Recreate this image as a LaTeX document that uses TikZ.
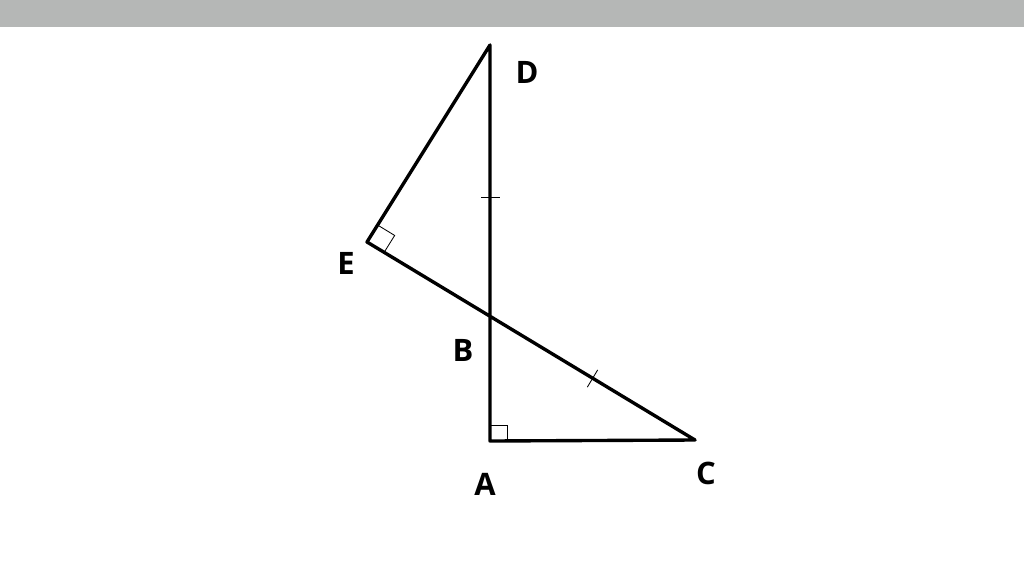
\documentclass[tikz,border=0pt]{standalone}
\usepackage{fontspec}
\setmainfont{Open Sans}
\usetikzlibrary{calc}
\definecolor{bargray}{RGB}{181,183,182}
\begin{document}
\begin{tikzpicture}[x=0.025cm, y=-0.025cm, side/.style={line width=2.4pt, line join=round}, mark line/.style={line width=0.6pt}, lbl/.style={font=\fontsize{22}{26}\selectfont\bfseries}]
    \useasboundingbox (0,0) rectangle (1024,560);
    \fill[bargray] (0,0) rectangle (1024,27);
    \coordinate (D) at (490,45); \coordinate (E) at (367,242);
    \coordinate (A) at (490,441); \coordinate (C) at (695,440);
    \coordinate (B) at (490,317);
    \draw[side] (D) -- (A) -- (C) -- (E) -- cycle;
    % right angles
    \draw[mark line] ($(A)+(0,-16)$) -- ++(17,0) -- ++(0,16);
    \draw[mark line] ($(E)!0.5cm!(D)$) -- ($(E)!0.5cm!(D)+(E)!0.5cm!(B)-(E)$) -- ($(E)!0.5cm!(B)$);
    % equal marks
    \coordinate (t1) at ($(D)!0.56!(B)$);
    \draw[mark line] ($(t1)+(-9,0)$) -- ($(t1)+(10,0)$);
    \coordinate (t2) at ($(B)!0.5!(C)$);
    \draw[mark line] ($(t2)!0.25cm!90:(C)$) -- ($(t2)!0.25cm!-90:(C)$);
    \node[lbl] (lD) at (527,72) {D};
    \node[lbl] (lE) at (346,263) {E};
    \node[lbl] (lB) at (463,350) {B};
    \node[lbl] (lA) at (485,484) {A};
    \node[lbl] (lC) at (706,473) {C};
\end{tikzpicture}
\end{document}
